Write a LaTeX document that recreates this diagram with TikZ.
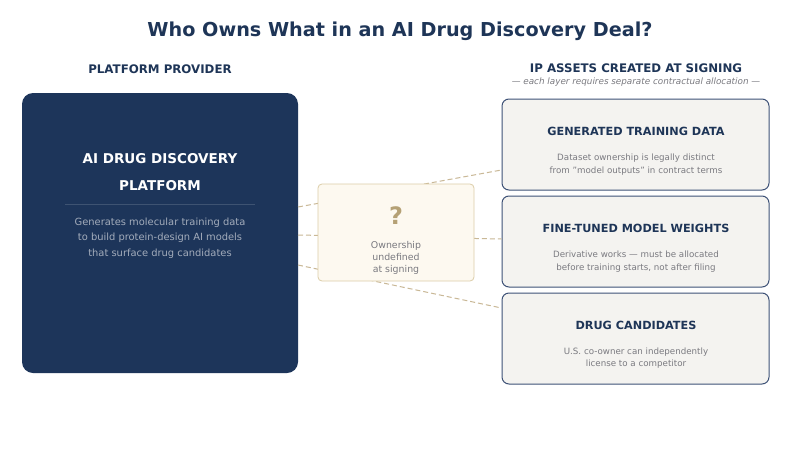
\documentclass[tikz,border=0pt]{standalone}
\usepackage{fontspec}
\setmainfont{DejaVu Sans}
\definecolor{navy}{HTML}{1D355A}
\definecolor{navytxt}{HTML}{1E3557}
\definecolor{tan}{HTML}{C9B896}
\definecolor{tandark}{HTML}{B5A175}
\definecolor{cream}{HTML}{FDF9F0}
\definecolor{creamb}{HTML}{DCCDA8}
\definecolor{card}{HTML}{F4F3F0}
\definecolor{cardb}{HTML}{3E5277}
\definecolor{graytxt}{HTML}{7A7A80}
\definecolor{desctxt}{HTML}{A3ACBB}
\begin{document}
\begin{tikzpicture}[x=1pt,y=-1pt,
  cardbox/.style={draw=cardb,fill=card,line width=1pt,rounded corners=7pt,minimum width=267pt,minimum height=91pt,inner sep=0pt},
  cardtitle/.style={font=\fontsize{11.25}{13}\selectfont\bfseries,text=navytxt},
  cardsub/.style={font=\fontsize{8.7}{12.5}\selectfont,text=graytxt,align=center},
  head/.style={font=\fontsize{11.8}{13}\selectfont\bfseries,text=navytxt},
  link/.style={draw=tan,dashed,dash pattern=on 5pt off 3pt,line width=1pt}]
\useasboundingbox (0,0) rectangle (800,450);
\fill[white] (0,0) rectangle (800,450);
% title
\node[font=\fontsize{19.2}{22}\selectfont\bfseries,text=navytxt] (title) at (400,31) {Who Owns What in an AI Drug Discovery Deal?};
\node[head] (lhead) at (160,69) {PLATFORM PROVIDER};
\node[head] (rhead) at (636,68.5) {IP ASSETS CREATED AT SIGNING};
\node[font=\fontsize{8.8}{10}\selectfont\itshape,text=graytxt] (rsub) at (636,82.5) {— each layer requires separate contractual allocation —};
% left platform box
\node[fill=navy,rounded corners=11pt,minimum width=276pt,minimum height=280pt,inner sep=0pt] (plat) at (160,233) {};
% right cards
\node[cardbox] (c1) at (635.5,144.5) {};
\node[cardbox] (c2) at (635.5,241.5) {};
\node[cardbox] (c3) at (635.5,338.5) {};
% dashed links behind middle box
\coordinate (p1) at (298,207);
\coordinate (p2) at (298,235);
\coordinate (p3) at (298,265);
\draw[link] (p1) -- (c1.west |- 0,170);
\draw[link] (p2) -- (c2.west |- 0,239);
\draw[link] (p3) -- (c3.west |- 0,308);
% middle box
\node[draw=creamb,fill=cream,line width=0.8pt,rounded corners=4pt,minimum width=156pt,minimum height=97pt,inner sep=0pt] (mid) at (396,232.5) {};
\node[font=\fontsize{24}{25}\selectfont\bfseries,text=tandark] (q) at (396,216) {?};
\node[font=\fontsize{9.4}{12.2}\selectfont,text=graytxt,align=center] (midtxt) at (396,258) {Ownership\\undefined\\at signing};
% platform texts
\node[font=\fontsize{13.5}{27}\selectfont\bfseries,text=white,align=center] (ptitle) at (160,172.5) {AI DRUG DISCOVERY\\PLATFORM};
\draw[draw=white,opacity=0.15,line width=0.7pt] (65,204) -- (255,204);
\node[font=\fontsize{9.9}{15.5}\selectfont,text=desctxt,align=center] (pdesc) at (160,238) {Generates molecular training data\\to build protein-design AI models\\that surface drug candidates};
% card texts
\node[cardtitle] (t1) at (636,131) {GENERATED TRAINING DATA};
\node[cardsub] (s1) at (636,164.5) {Dataset ownership is legally distinct\\from "model outputs" in contract terms};
\node[cardtitle] (t2) at (636,228) {FINE-TUNED MODEL WEIGHTS};
\node[cardsub] (s2) at (636,261.5) {Derivative works — must be allocated\\before training starts, not after filing};
\node[cardtitle] (t3) at (636,325) {DRUG CANDIDATES};
\node[cardsub] (s3) at (636,358) {U.S. co-owner can independently\\license to a competitor};
\end{tikzpicture}
\end{document}
